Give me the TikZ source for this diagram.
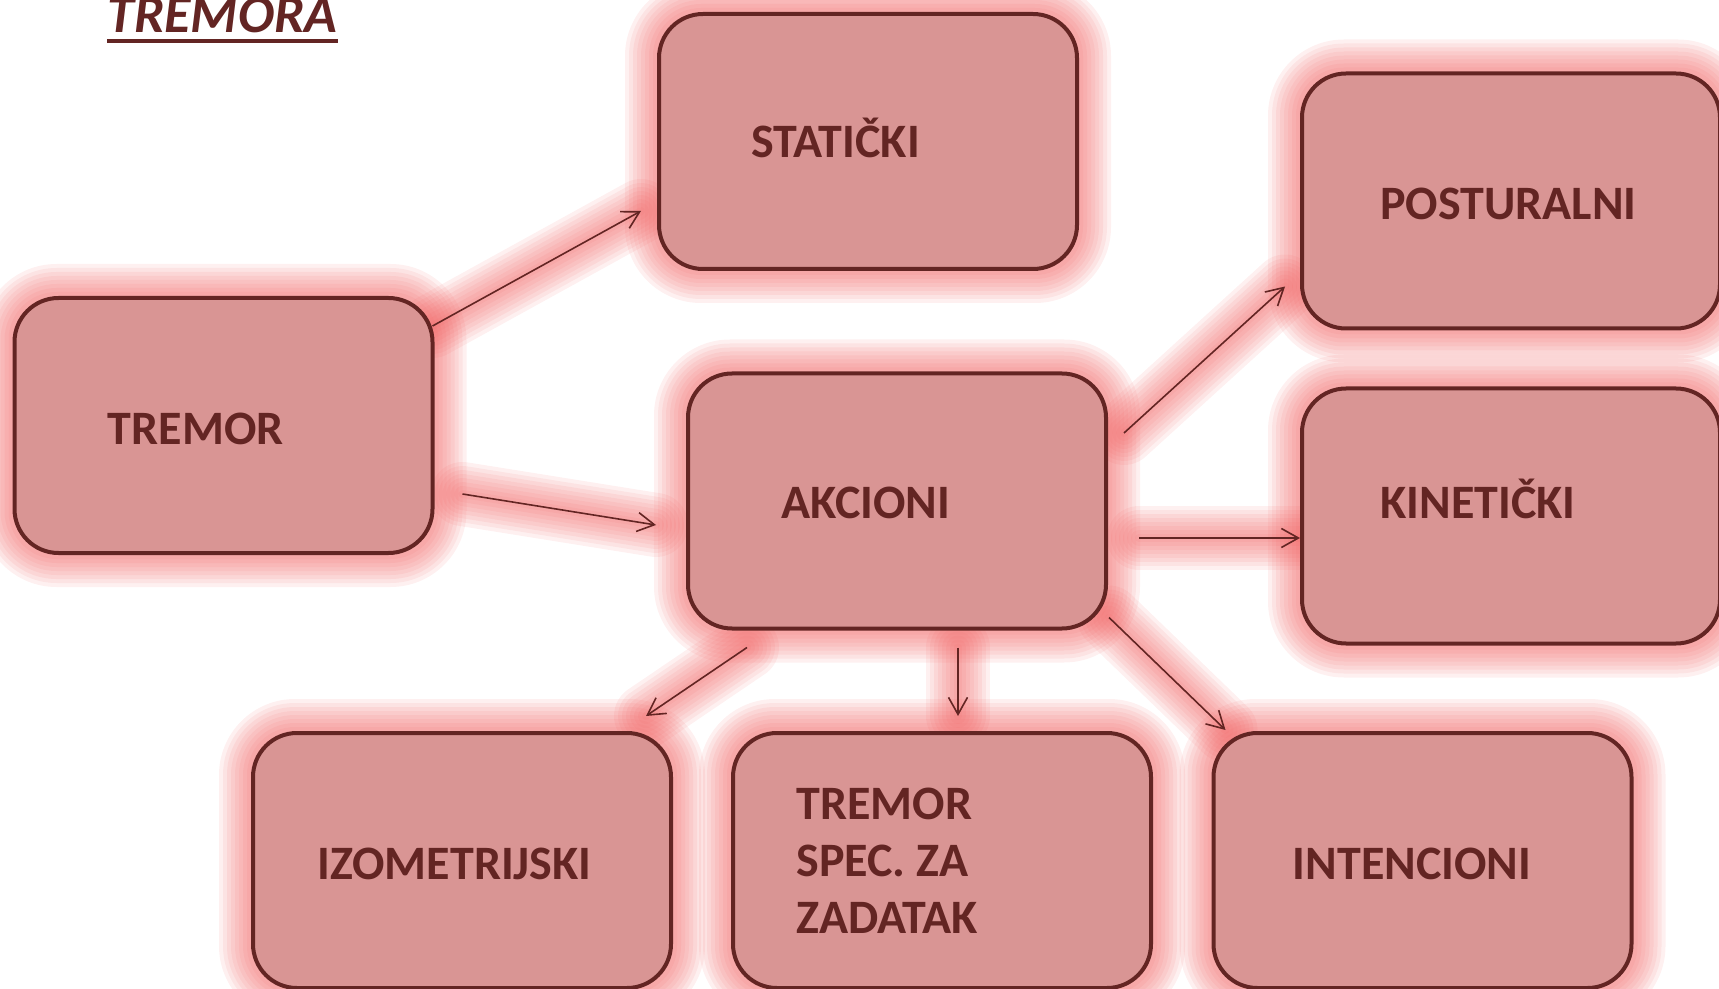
\documentclass[tikz,border=0pt]{standalone}
\usepackage{fontspec}
\setmainfont{Carlito}
\usetikzlibrary{calc,arrows.meta,backgrounds}
\definecolor{boxfill}{RGB}{217,149,148}
\definecolor{maroon}{RGB}{99,37,35}
\definecolor{glowc}{RGB}{240,90,90}
\tikzset{
  box/.style={draw=maroon, fill=boxfill, line width=2pt, rounded corners=22pt,
    minimum width=209pt, minimum height=127.5pt, inner sep=0pt},
  lbl/.style={text=maroon, font=\fontsize{24}{28.5}\selectfont\bfseries, inner sep=0pt},
  conn/.style={draw=maroon, line width=0.8pt, -{Straight Barb[length=8.5pt,width=9.5pt]}},
}
\newcommand{\glowbox}[1]{%
  \foreach \d in {2,4,...,16}{%
    \fill[glowc, opacity=0.09, rounded corners=22pt+\d pt]
      ([xshift=-\d pt, yshift=\d pt]#1.north west) rectangle ([xshift=\d pt, yshift=-\d pt]#1.south east);
  }}
\newcommand{\glowline}[2]{%
  \foreach \w in {4,8,...,32}{%
    \draw[glowc, opacity=0.09, line width=\w pt, line cap=round] #1 -- #2;
  }}
\begin{document}
\begin{tikzpicture}[x=0.5pt, y=-0.5pt]
\useasboundingbox (0,0) rectangle (1719,989);
% title
\node[text=maroon, font=\fontsize{27}{30}\selectfont\bfseries\itshape, inner sep=0pt, anchor=base west] (title) at (107,33) {TREMORA};
\draw[maroon, line width=1.6pt] ([yshift=-4pt]title.base west) -- ([yshift=-4pt]title.base east);
% boxes
\node[box] (stat) at (868,141.5) {};
\node[box] (trem) at (223.5,425.5) {};
\node[box] (akc)  at (897,501) {};
\node[box] (post) at (1511,201) {};
\node[box] (kin)  at (1511,516) {};
\node[box] (izo)  at (462,860.5) {};
\node[box] (spec) at (942,860.5) {};
\node[box] (int)  at (1422.5,860.5) {};
% labels
\node[lbl, anchor=base west] (tStat) at ($(stat.west)+(94,16)$) {STATIČKI};
\node[lbl, anchor=base west] (tTrem) at ($(trem.west)+(95,19)$) {TREMOR};
\node[lbl, anchor=base west] (tAkc)  at ($(akc.west)+(95,17.5)$) {AKCIONI};
\node[lbl, anchor=base west] (tPost) at ($(post.west)+(80,18.5)$) {POSTURALNI};
\node[lbl, anchor=base west] (tKin)  at ($(kin.west)+(80,2.5)$) {KINETIČKI};
\node[lbl, anchor=base west] (tIzo)  at ($(izo.west)+(66,19)$) {IZOMETRIJSKI};
\node[lbl, anchor=west, align=left] (tSpec) at ($(spec.west)+(65,0.5)$) {TREMOR\\SPEC. ZA\\ZADATAK};
\node[lbl, anchor=base west] (tInt)  at ($(int.west)+(81,19)$) {INTENCIONI};
% arrow end points
\coordinate (a1s) at ($(trem.north east)+(-2,30)$);
\coordinate (a1e) at ($(stat.south west)+(-16,-60)$);
\coordinate (a2s) at ($(trem.east)+(28,68.5)$);
\coordinate (a2e) at ($(akc.west)+(-30,24)$);
\coordinate (a3s) at ($(akc.east)+(16,-68)$);
\coordinate (a3e) at ($(post.south west)+(-15,-44)$);
\coordinate (a4s) at ($(akc.east)+(31,37)$);
\coordinate (a4e) at ($(kin.west)+(0,22)$);
\coordinate (a5s) at ($(akc.south west)+(61,17)$);
\coordinate (a5e) at ($(izo.north east)+(-27,-15)$);
\coordinate (a6s) at ($(akc.south)+(61,17)$);
\coordinate (a6e) at ($(spec.north)+(16,-15)$);
\coordinate (a7s) at ($(akc.south east)+(1,-13)$);
\coordinate (a7e) at ($(int.north west)+(14,-1)$);
% glow
\begin{scope}[on background layer]
  \glowbox{stat}\glowbox{trem}\glowbox{akc}\glowbox{post}
  \glowbox{kin}\glowbox{izo}\glowbox{spec}\glowbox{int}
  \glowline{(a1s)}{(a1e)}\glowline{(a2s)}{(a2e)}\glowline{(a3s)}{(a3e)}
  \glowline{(a4s)}{(a4e)}\glowline{(a5s)}{(a5e)}\glowline{(a6s)}{(a6e)}
  \glowline{(a7s)}{(a7e)}
\end{scope}
% connectors
\draw[conn] (a1s) -- (a1e);
\draw[conn] (a2s) -- (a2e);
\draw[conn] (a3s) -- (a3e);
\draw[conn] (a4s) -- (a4e);
\draw[conn] (a5s) -- (a5e);
\draw[conn] (a6s) -- (a6e);
\draw[conn] (a7s) -- (a7e);
\end{tikzpicture}
\end{document}
